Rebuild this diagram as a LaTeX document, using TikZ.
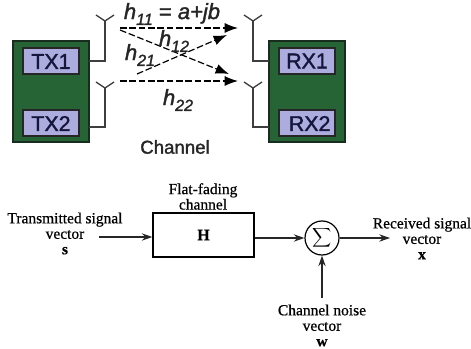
\documentclass[tikz,border=0pt]{standalone}
\usepackage{fontspec}
\setmainfont[FakeBold=0.6]{Liberation Serif}
\setsansfont[FakeBold=1.6]{Liberation Sans}
\usetikzlibrary{arrows.meta}
\definecolor{boardgreen}{RGB}{38,100,54}
\definecolor{boardedge}{RGB}{24,44,32}
\definecolor{portfill}{RGB}{172,172,222}
\definecolor{portink}{RGB}{22,22,60}
\definecolor{wireink}{RGB}{62,62,62}
\newcommand{\hchan}[1]{{\itshape h\raisebox{-0.5ex}{\fontsize{12}{12}\selectfont #1}}}
\tikzset{every picture/.style={line width=0.5pt}}
\tikzset{
  board/.style={draw=boardedge,fill=boardgreen,line width=1.2pt,minimum width=57pt,minimum height=75.75pt,inner sep=0pt},
  port/.style={draw=black!85,fill=portfill,line width=1.5pt,text=portink,minimum width=42pt,minimum height=19.5pt,inner sep=0pt,font=\sffamily\fontsize{16}{16}\selectfont},
  wire/.style={draw=wireink,line width=1pt},
  link/.style={draw=black,line width=0.9pt,dash pattern=on 5pt off 2pt,-{Latex[length=10pt,width=7.5pt]}},
  gainlabel/.style={inner sep=0pt,font=\sffamily\fontsize{16.5}{16.5}\selectfont,text=black!85},
  blocklabel/.style={inner sep=0pt,align=center,font=\fontsize{11.6}{11.6}\selectfont},
  signal/.style={draw=black!85,line width=0.9pt,-{Stealth[length=8pt,width=5.5pt]}}
}
\begin{document}
\begin{tikzpicture}[x=0.75pt,y=0.75pt,yscale=-1,xscale=1]
\useasboundingbox (0,0) rectangle (471,349);

%Shape: Transmitter board
\node [board] (txboard) at (51,91.5) {};
\node [port] (txone) at (51,61.5) {TX1};
\node [port] (txtwo) at (51,123.5) {TX2};
%Shape: Receiver board
\node [board] (rxboard) at (307,91.5) {};
\node [port] (rxone) at (307,61) {RX1};
\node [port] (rxtwo) at (307,123.5) {\hspace{4pt}RX2};

%Shape: Antennas
\foreach \name/\ax/\ay/\by/\bx in {atxone/105/21/61/89,atxtwo/105/88/127/89,arxone/253/21/61/269,arxtwo/253/88/127/269}{
  \coordinate (\name) at (\ax,\ay);
  \coordinate (\name foot) at (\bx,\by);
  \draw [wire] (\name) |- (\name foot);
  \draw [wire] (\ax-9,\ay-6) -- (\name) -- (\ax+9,\ay-6);
}

%Shape: Channel links
\coordinate (lone) at (120,28);
\coordinate (ltwo) at (120,81);
\coordinate (lthree) at (120,30);
\coordinate (lfour) at (137,74);
\coordinate (mone) at (238,28);
\coordinate (mtwo) at (238,81);
\coordinate (mthree) at (229,74);
\coordinate (mfour) at (227,35);
\draw [link] (lone) -- (mone);
\draw [link] (ltwo) -- (mtwo);
\draw [link] (lthree) -- (mthree);
\draw [link] (lfour) -- (mfour);

\node [gainlabel] (hoo) at (172,14) {\hchan{11} = {\itshape a+jb}};
\node [gainlabel] (hot) at (174,41) {\hchan{12}};
\node [gainlabel] (hto) at (140,55) {\hchan{21}};
\node [gainlabel] (htt) at (178,100) {\hchan{22}};
\node [inner sep=0pt,font=\sffamily\fontsize{14}{14}\selectfont,text=black!85] (chan) at (175,147) {Channel};

%Shape: Block diagram
\node [draw,line width=0.9pt,minimum width=75.75pt,minimum height=33pt,inner sep=0pt,font=\fontsize{12}{13}\selectfont\bfseries] (hbox) at (203.5,235) {H};
\node [blocklabel] (flat) at (203,196.5) {Flat-fading\\channel};
\node [draw,circle,line width=0.9pt,minimum size=25.5pt,inner sep=0pt] (summer) at (322,238) {$\displaystyle\sum$};
\node [blocklabel] (tx) at (65,233.5) {Transmitted signal\\vector\\\textbf{s}};
\node [blocklabel] (rx) at (422,238.5) {Received signal\\vector\\\textbf{x}};
\node [blocklabel] (noise) at (322,325.5) {Channel noise\\vector\\\textbf{w}};

\coordinate (txend) at (99,237);
\coordinate (rxend) at (390,238);
\coordinate (noiseend) at (322,298);
\draw [signal] (txend) -- (txend -| hbox.west);
\draw [signal] (hbox.east |- summer) -- (summer.west);
\draw [signal] (summer.east) -- (rxend);
\draw [signal] (noiseend) -- (summer.south);

\end{tikzpicture}
\end{document}
